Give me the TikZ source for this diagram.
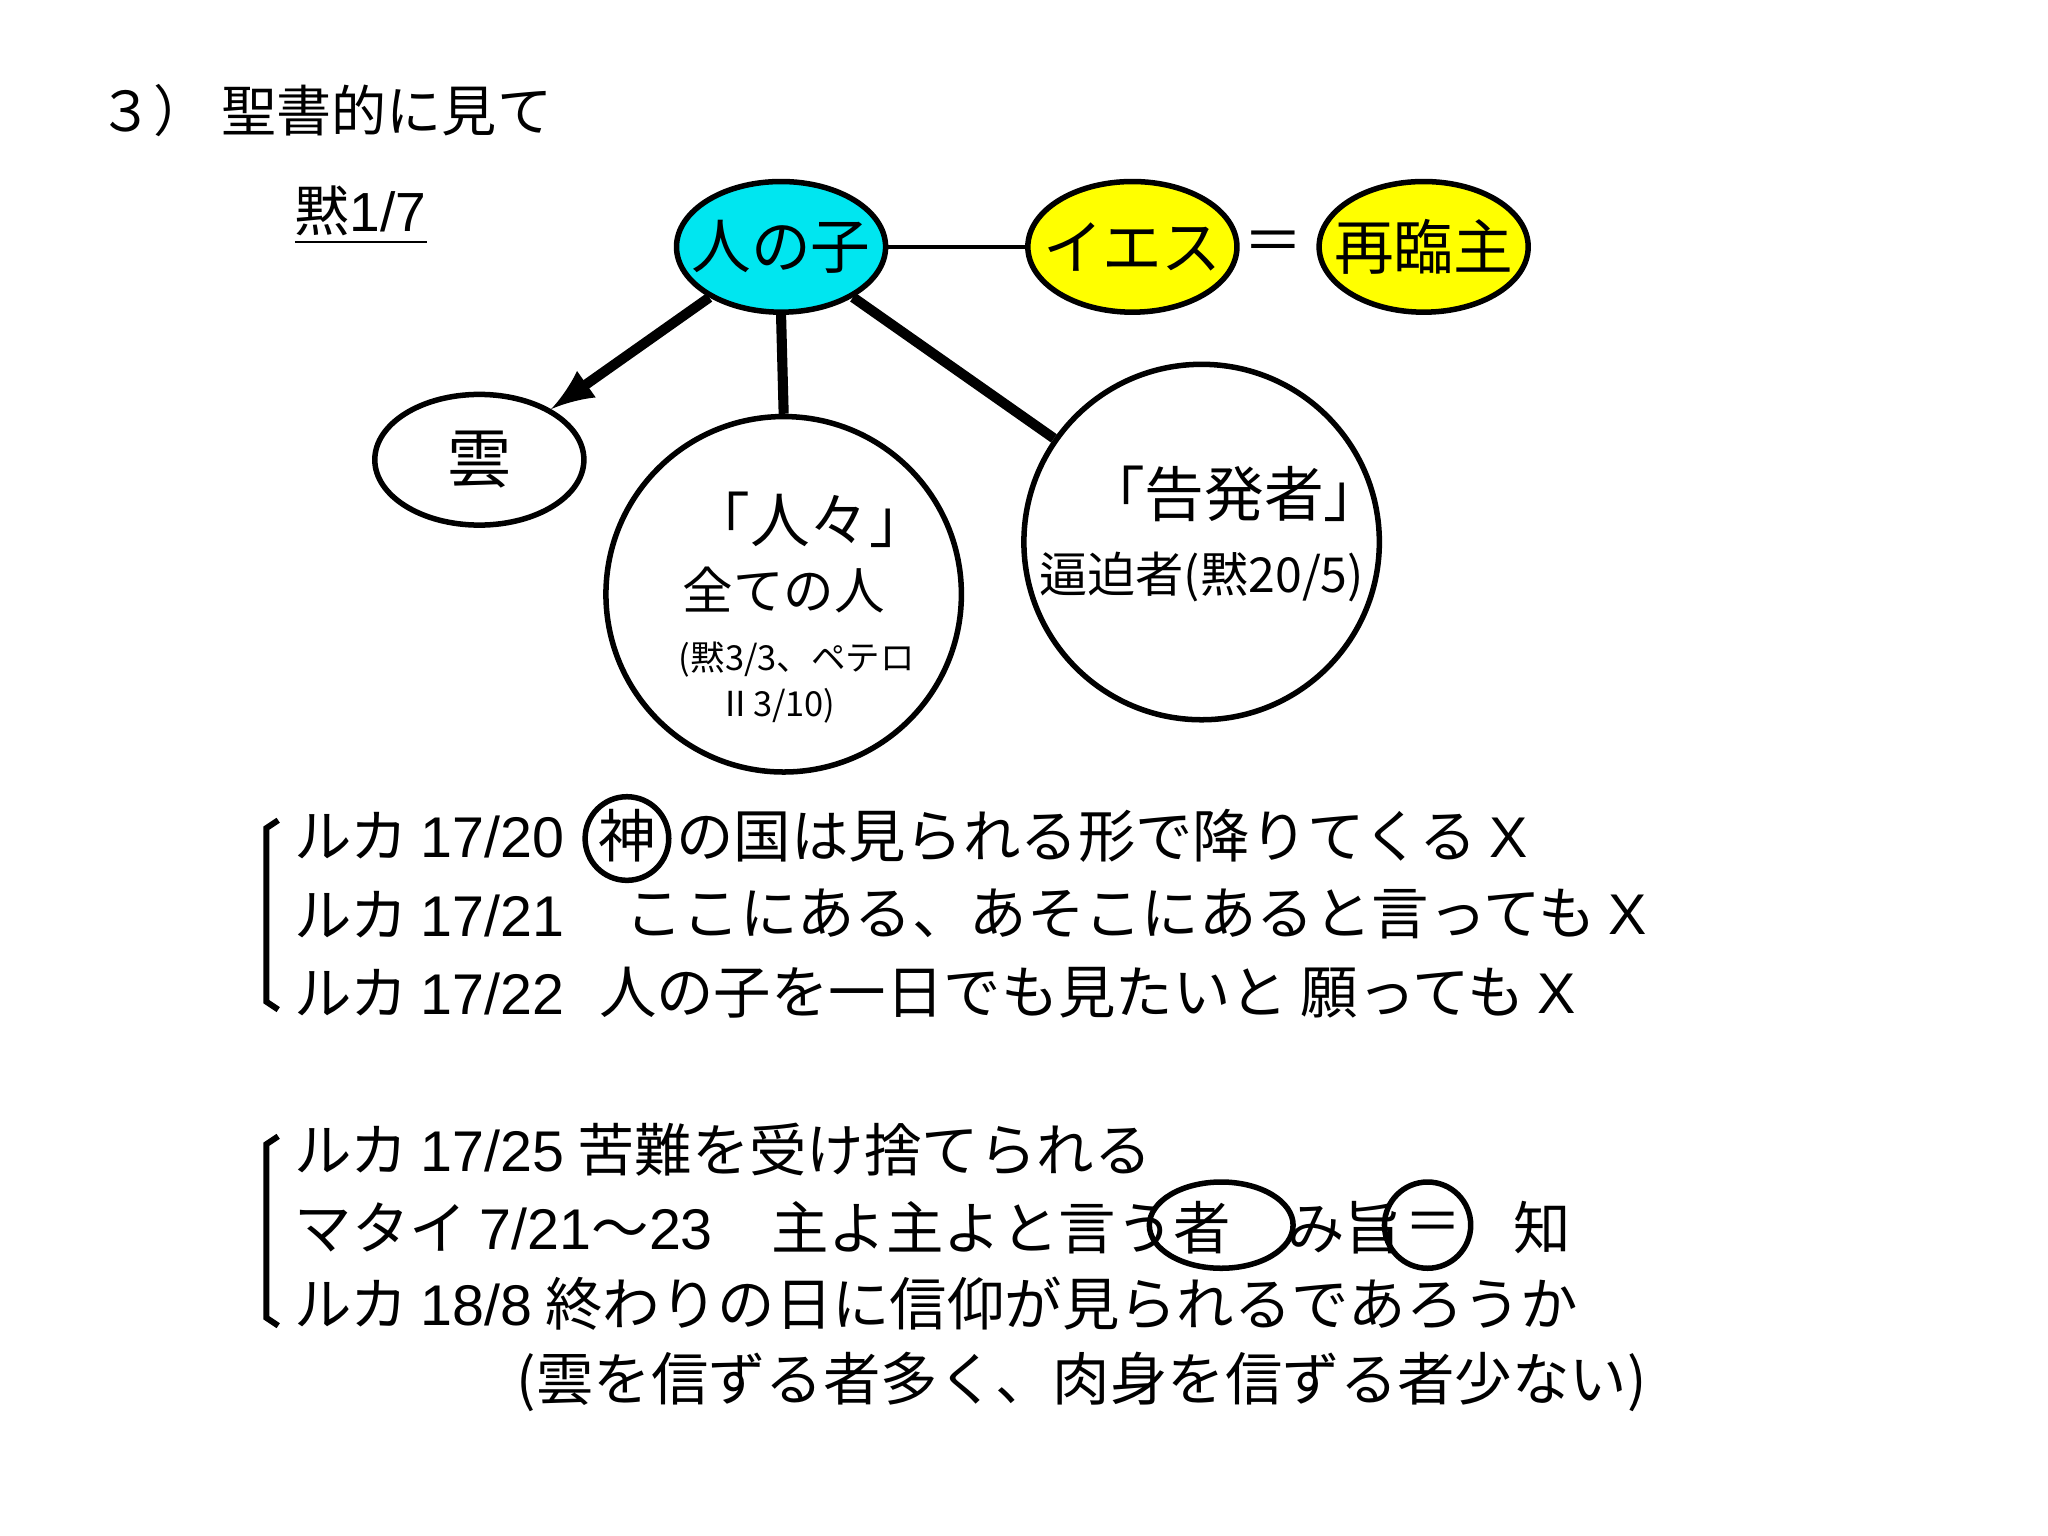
\documentclass[tikz,border=0pt]{standalone}
\usepackage{fontspec}
\setmainfont{Noto Sans CJK JP}
\newfontfamily\latinf{Liberation Sans}
\usetikzlibrary{shapes.geometric}
\definecolor{sky}{RGB}{0,230,240}
\definecolor{yel}{RGB}{255,255,0}
\begin{document}
\begin{tikzpicture}[x=0.01cm,y=-0.01cm,
  ov/.style={ellipse,draw,line width=1.2pt,minimum width=1.6cm,minimum height=1.0cm,inner sep=0pt},
  lab/.style={inner sep=0pt,font=\fontsize{13}{15}\selectfont},
  big/.style={circle,draw,line width=1.2pt,minimum size=2.72cm,inner sep=0pt},
  tx/.style={anchor=west,inner sep=0pt,font=\fontsize{12.5}{15}\selectfont},
  thick2/.style={line width=2.2pt}]
\useasboundingbox (0,0) rectangle (1568,1176);
\node[tx,font=\fontsize{12}{14}\selectfont] (title) at (75,85) {３）\ 聖書的に見て};
\node[tx,font=\fontsize{12}{14}\selectfont] (ref) at (225,165) {\underline{黙{\latinf 1/7}}};
\node[ov,fill=sky] (son) at (598,189) {};
\node[lab] at (son) {人の子};
\node[ov,fill=yel] (jesus) at (867,189) {};
\node[lab] at (jesus) {イエス};
\node[lab] (eq) at (975,189) {＝};
\node[ov,fill=yel] (lord) at (1090,189) {};
\node[lab] at (lord) {再臨主};
\node[ov] (cloud) at (367,352) {};
\node[lab,font=\fontsize{14}{16}\selectfont] at (cloud) {雲};
\node[big] (people) at (600,455) {};
\node[big] (accuser) at (920,415) {};
\draw[line width=1pt] (son) -- (jesus);
\draw[thick2,-latex] (son) -- (cloud);
\draw[thick2] (son.south) -- (people.north);
\draw[thick2] (son) -- (accuser);
\node[inner sep=0pt,font=\fontsize{13}{15}\selectfont] (p1) at (620,398) {「人々」};
\node[inner sep=0pt,font=\fontsize{11}{13}\selectfont] (p2) at (600,452) {全ての人};
\node[inner sep=0pt,font=\fontsize{7.5}{9}\selectfont] (p3) at (610,505) {(黙3/3、ペテロ};
\node[inner sep=0pt,font=\fontsize{7.5}{9}\selectfont] (p4) at (595,540) {Ⅱ3/10)};
\node[inner sep=0pt,font=\fontsize{13}{15}\selectfont] (a1) at (945,378) {「告発者」};
\node[inner sep=0pt,font=\fontsize{10.5}{13}\selectfont] (a2) at (920,442) {逼迫者(黙20/5)};
% group 1
\draw[line width=1.3pt] (213,628) -- (204,634) -- (204,767) -- (213,773);
\node[tx] (l1a) at (225,640) {ルカ {\latinf 17/20}};
\node[inner sep=0pt,font=\fontsize{12.5}{15}\selectfont] (god) at (480,640) {神};
\node[tx] (l1b) at (517,640) {の国は見られる形で降りてくる {\latinf X}};
\node[circle,draw,line width=1.2pt,minimum size=0.64cm] (c1) at (480,642) {};
\node[tx] (l2a) at (225,700) {ルカ {\latinf 17/21}};
\node[tx] (l2b) at (478,700) {ここにある、あそこにあると言っても {\latinf X}};
\node[tx] (l3a) at (225,760) {ルカ {\latinf 17/22}};
\node[tx] (l3b) at (458,760) {人の子を一日でも見たいと 願っても {\latinf X}};
% group 2
\draw[line width=1.3pt] (213,870) -- (204,876) -- (204,1009) -- (213,1015);
\node[tx] (m1) at (225,880) {ルカ {\latinf 17/25} 苦難を受け捨てられる};
\node[tx] (m2a) at (225,940) {マタイ {\latinf 7/21}～{\latinf 23}};
\node[tx] (m2b) at (590,940) {主よ主よと言う者};
\node[tx] (m2c) at (985,940) {み旨};
\node[inner sep=0pt,font=\fontsize{12.5}{15}\selectfont] (m2d) at (1097,940) {＝};
\node[tx] (m2e) at (1158,940) {知};
\node[ellipse,draw,line width=1.2pt,minimum width=1.1cm,minimum height=0.66cm] (e1) at (935,938) {};
\node[circle,draw,line width=1.2pt,minimum size=0.66cm] (e2) at (1093,938) {};
\node[tx] (m3) at (225,998) {ルカ {\latinf 18/8} 終わりの日に信仰が見られるであろうか};
\node[tx] (m4) at (395,1058) {(雲を信ずる者多く、肉身を信ずる者少ない)};
\end{tikzpicture}
\end{document}
